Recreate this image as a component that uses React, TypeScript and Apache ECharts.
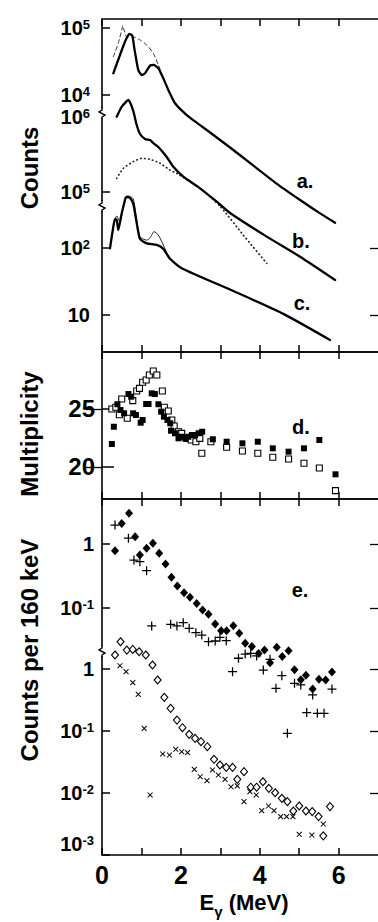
import React, { useEffect, useRef } from 'react';
import * as echarts from 'echarts';

// ---------- data (E in MeV) ----------
const xTickValues = [0, 1, 2, 3, 4, 5, 6];
const xLabelValues = [0, 2, 4, 6];

// panel a (counts)
const curveA = [[0.287, 21100], [0.456, 39500], [0.583, 62500], [0.692, 81300], [0.768, 76700], [0.819, 49800], [0.862, 35600], [0.921, 23600], [1.007, 19900], [1.091, 21100], [1.217, 27400], [1.301, 28100], [1.428, 25100], [1.555, 17700], [1.682, 11900], [1.851, 7520], [2.148, 5020], [2.485, 3560], [2.909, 2320], [3.33, 1510], [4.417, 481], [5.022, 271], [5.529, 171], [5.909, 124]];
const curveADashed = [[0.287, 37300], [0.413, 59200], [0.5, 93300], [0.525, 108000], [0.558, 93300], [0.609, 76000], [0.667, 73500], [0.794, 73500], [0.964, 66200], [1.134, 55700], [1.301, 41900], [1.428, 28100], [1.471, 24400]];
// panel b
const curveB = [[0.373, 1010000], [0.5, 1370000], [0.626, 1630000], [0.667, 1690000], [0.71, 1570000], [0.794, 1200000], [0.88, 782000], [0.964, 593000], [1.091, 509000], [1.217, 493000], [1.301, 450000], [1.428, 398000], [1.641, 293000], [1.808, 217000], [2.062, 160000], [2.485, 112000], [2.909, 74300], [3.246, 52500], [4.177, 25400], [5.022, 13700], [5.909, 6710]];
const curveBDotted = [[0.373, 152000], [0.54, 207000], [0.794, 254000], [1.007, 281000], [1.217, 273000], [1.471, 242000], [1.725, 196000], [1.895, 177000], [2.485, 112000], [2.99, 65000], [3.58, 26700], [4.177, 11200]];
// panel c
const curveC = [[0.203, 99], [0.266, 173], [0.33, 271], [0.373, 262], [0.413, 186], [0.5, 330], [0.626, 577], [0.71, 557], [0.794, 454], [0.88, 236], [0.964, 136], [1.134, 117], [1.387, 111], [1.555, 97], [1.725, 69], [2.021, 50], [3.33, 22.8], [4.598, 10.4], [5.782, 4.24]];
const curveCThin = [[0.203, 100], [0.287, 206], [0.373, 301], [0.456, 244], [0.583, 577], [0.667, 597], [0.794, 538], [0.88, 262], [0.964, 146], [1.134, 131], [1.217, 141], [1.319, 176], [1.428, 156], [1.555, 111], [1.674, 76]];

// panel d (multiplicity)
const multFilled = [[0.25, 21.98], [0.3, 23.47], [0.39, 25.41], [0.47, 24.91], [0.56, 24.63], [0.67, 26.29], [0.74, 26.06], [0.79, 24.63], [0.86, 24.48], [0.98, 23.82], [1.03, 24.05], [1.12, 25.43], [1.18, 25.43], [1.26, 26.35], [1.34, 26.29], [1.43, 25.41], [1.5, 24.77], [1.57, 24.34], [1.66, 24.05], [1.73, 23.77], [1.75, 23.13], [1.85, 22.91], [1.94, 22.47], [2.02, 22.61], [2.11, 22.47], [2.19, 22.61], [2.28, 22.76], [2.36, 22.76], [2.45, 22.91], [2.54, 23.04], [2.81, 22.39], [3.16, 22.18], [3.56, 22.04], [3.95, 22.18], [4.33, 21.61], [4.73, 21.32], [5.12, 21.61], [5.51, 22.33], [5.92, 19.37]];
const multOpen = [[0.25, 25.0], [0.35, 25.15], [0.44, 24.5], [0.5, 25.86], [0.64, 24.2], [0.78, 25.72], [0.88, 26.55], [0.95, 26.78], [1.03, 27.3], [1.12, 27.5], [1.2, 27.93], [1.3, 28.28], [1.39, 27.93], [1.53, 26.55], [1.58, 25.15], [1.68, 24.83], [1.77, 24.05], [1.83, 23.53], [1.94, 23.04], [2.02, 22.9], [2.15, 22.47], [2.26, 22.33], [2.38, 22.18], [2.48, 22.47], [2.53, 21.18], [2.76, 22.18], [3.16, 21.7], [3.56, 21.38], [3.95, 21.18], [4.33, 20.84], [4.73, 20.69], [5.12, 20.32], [5.51, 19.91], [5.92, 17.96]];

// panel e (counts per 160 keV), upper scale
const eDiamondFilled = [[0.33, 0.785], [0.5, 2.1], [0.685, 3.02], [0.84, 1.3], [0.96, 0.673], [1.13, 0.857], [1.29, 1.03], [1.45, 0.716], [1.61, 0.486], [1.76, 0.302], [1.91, 0.221], [2.08, 0.173], [2.23, 0.147], [2.4, 0.118], [2.55, 0.0931], [2.7, 0.0796], [2.87, 0.0562], [3.02, 0.0442], [3.16, 0.0442], [3.33, 0.0528], [3.48, 0.0403], [3.63, 0.0282], [3.8, 0.0251], [3.97, 0.0195], [4.12, 0.0221], [4.26, 0.014], [4.43, 0.0243], [4.57, 0.0174], [4.73, 0.0215], [4.88, 0.0108], [5.04, 0.00759], [5.17, 0.00891], [5.34, 0.00542], [5.5, 0.00769], [5.67, 0.0075], [5.83, 0.01]];
const ePlus = [[0.33, 1.98], [0.67, 1.23], [0.81, 0.562], [0.96, 0.53], [1.13, 0.383], [1.26, 0.0524], [1.74, 0.0556], [1.9, 0.0524], [2.06, 0.059], [2.21, 0.0481], [2.38, 0.0412], [2.53, 0.0378], [2.7, 0.0298], [2.87, 0.0305], [2.99, 0.0348], [3.15, 0.0309], [3.31, 0.0101], [3.46, 0.0164], [3.63, 0.0191], [3.77, 0.0196], [3.92, 0.0178], [4.09, 0.0107], [4.26, 0.0158], [4.41, 0.00556], [4.56, 0.00877], [4.7, 0.0011], [4.88, 0.00665], [5.04, 0.00627], [5.19, 0.00232], [5.34, 0.00438], [5.46, 0.00226], [5.63, 0.00226], [5.83, 0.00542]];
// lower scale
const eDiamondOpen = [[0.33, 1.68], [0.47, 2.75], [0.63, 2.02], [0.78, 2.07], [0.94, 1.9], [1.11, 1.68], [1.28, 1.16], [1.41, 0.665], [1.58, 0.349], [1.74, 0.232], [1.9, 0.15], [2.04, 0.113], [2.21, 0.0883], [2.36, 0.0762], [2.51, 0.0673], [2.67, 0.0558], [2.84, 0.0349], [2.99, 0.0283], [3.15, 0.0259], [3.31, 0.0259], [3.43, 0.0166], [3.6, 0.0221], [3.77, 0.0124], [3.92, 0.0124], [4.08, 0.0152], [4.23, 0.0119], [4.39, 0.0101], [4.56, 0.0082], [4.7, 0.00724], [4.85, 0.00513], [5.0, 0.00617], [5.17, 0.00513], [5.33, 0.00501], [5.49, 0.00417], [5.61, 0.00204], [5.78, 0.00603]];
const eCross = [[0.456, 1.13], [0.61, 0.906], [0.78, 0.603], [0.92, 0.389], [1.07, 0.11], [1.22, 0.00929], [1.54, 0.0426], [1.71, 0.041], [1.87, 0.0507], [2.02, 0.0463], [2.17, 0.0447], [2.34, 0.0241], [2.49, 0.0183], [2.66, 0.0158], [2.8, 0.0235], [2.95, 0.0195], [3.12, 0.0166], [3.27, 0.0126], [3.43, 0.013], [3.6, 0.00724], [3.75, 0.0105], [3.91, 0.00929], [4.05, 0.00519], [4.22, 0.00617], [4.36, 0.00519], [4.53, 0.00415], [4.68, 0.00415], [4.84, 0.00415], [5.0, 0.00216], [5.32, 0.0021], [5.61, 0.00316]];

// axis tick/label values
const aTicks = [1e4, 1e5];
const bLabels = [1e5, 1e6];
const bTicks = [1e5];
const cTicks = [10, 100];
const dTicks = [20, 25];
const eUpperTicks = [0.1, 1];
const eLowerTicks = [0.001, 0.01, 0.1, 1];

const FONT = '"Liberation Sans", Arial, sans-serif';
const LEFT = 102;
const WIDTH = 284;
const XMAX = 7.2;

const logLabel = (v: number) => {
  const e = Math.round(Math.log10(v));
  if (e === 0) return '{b|1}';
  if (e === 1) return '{b|10}';
  if (e === -3) return '{b|10}{s|-3}\n{e| }';
  return `{b|10}{s|${e}}`;
};

const labelRich = {
  b: { fontSize: 20, fontWeight: 'bold', fontFamily: FONT, color: '#000' },
  s: { fontSize: 13, fontWeight: 'bold', fontFamily: FONT, color: '#000', verticalAlign: 'top' },
  e: { fontSize: 13, lineHeight: 22 },
};

const PLUS = 'path://M0,4.3H10V5.7H0Z M4.3,0H5.7V10H4.3Z';

export default function App() {
  const ref = useRef<HTMLDivElement>(null);
  useEffect(() => {
    if (!ref.current) return;
    const chart = echarts.init(ref.current, undefined, { renderer: 'svg' });

    const gridBase = { left: LEFT, width: WIDTH, outerBoundsMode: 'none', containLabel: false };
    const border = { show: true, borderColor: '#000', borderWidth: 1.6, backgroundColor: 'transparent' };
    const grids = [
      { ...gridBase, top: 19, height: 333, ...border },
      { ...gridBase, top: 19, height: 333 },
      { ...gridBase, top: 19, height: 333 },
      { ...gridBase, top: 352, height: 147, ...border },
      { ...gridBase, top: 499, height: 356, ...border },
      { ...gridBase, top: 499, height: 356 },
    ];

    const tickX = { show: true, inside: true, length: 7, customValues: xTickValues, lineStyle: { color: '#000', width: 1.5 } };
    const xBase = { type: 'value', min: 0, max: XMAX, splitLine: { show: false }, axisLine: { show: false }, axisLabel: { show: false } };
    const xAxes = [
      { ...xBase, gridIndex: 0, position: 'top', axisTick: tickX },
      { ...xBase, gridIndex: 0, position: 'bottom', axisTick: tickX },
      { ...xBase, gridIndex: 1, show: false },
      { ...xBase, gridIndex: 2, show: false },
      { ...xBase, gridIndex: 3, position: 'top', axisTick: tickX },
      { ...xBase, gridIndex: 3, position: 'bottom', axisTick: tickX },
      { ...xBase, gridIndex: 4, position: 'top', axisTick: tickX },
      {
        ...xBase, gridIndex: 5, position: 'bottom', axisTick: tickX,
        axisLabel: { show: true, customValues: xLabelValues, fontSize: 25, fontWeight: 'bold', fontFamily: FONT, color: '#000', margin: 7 },
        name: '{e|E}{g|γ}{e| (MeV)}', nameLocation: 'middle', nameGap: 36,
        nameTextStyle: {
          rich: {
            e: { fontSize: 22, fontWeight: 'bold', fontFamily: FONT, color: '#000', lineHeight: 28, verticalAlign: 'top' },
            g: { fontSize: 15, fontWeight: 'bold', fontFamily: FONT, color: '#000', lineHeight: 15, verticalAlign: 'bottom' },
          },
        },
      },
    ];

    const leftLog = (gridIndex: number, min: number, max: number, ticks: number[], labels: number[], margin = 12) => ({
      type: 'log', logBase: 10, gridIndex, position: 'left', min, max,
      axisLine: { show: false }, splitLine: { show: false }, minorTick: { show: false },
      axisTick: { show: ticks.length > 0, inside: true, length: 8, customValues: ticks, lineStyle: { color: '#000', width: 1.5 } },
      axisLabel: { show: true, customValues: labels, formatter: logLabel, rich: labelRich, margin, color: '#000' },
    });
    const rightTicks = (type: string, gridIndex: number, min: number, max: number, ticks: number[]) => ({
      type, gridIndex, position: 'right', min, max,
      axisLine: { show: false }, splitLine: { show: false }, axisLabel: { show: false },
      axisTick: { show: true, inside: true, length: 16, customValues: ticks, lineStyle: { color: '#000', width: 1.3 } },
    });

    const aRange = [Math.pow(10, 0.1642), Math.pow(10, 5.1343)];
    const bRange = [Math.pow(10, 2.8667), Math.pow(10, 7.3067)];
    const cRange = [Math.pow(10, 0.4478), Math.pow(10, 5.4179)];
    const dRange = [17.241, 29.914];
    const euRange = [Math.pow(10, -4.8594), Math.pow(10, 0.7031)];
    const elRange = [0.001, Math.pow(10, 2.7419)];

    const yAxes = [
      leftLog(0, aRange[0], aRange[1], aTicks, aTicks),
      leftLog(1, bRange[0], bRange[1], bTicks, bLabels),
      leftLog(2, cRange[0], cRange[1], cTicks, cTicks),
      rightTicks('log', 2, cRange[0], cRange[1], cTicks),
      {
        type: 'value', gridIndex: 3, position: 'left', min: dRange[0], max: dRange[1],
        axisLine: { show: false }, splitLine: { show: false },
        axisTick: { show: true, inside: true, length: 12, customValues: dTicks, lineStyle: { color: '#000', width: 1.5 } },
        axisLabel: { show: true, customValues: dTicks, fontSize: 24, fontWeight: 'bold', fontFamily: FONT, color: '#000', margin: 7 },
      },
      rightTicks('value', 3, dRange[0], dRange[1], dTicks),
      leftLog(4, euRange[0], euRange[1], eUpperTicks, eUpperTicks, 8),
      rightTicks('log', 4, euRange[0], euRange[1], eUpperTicks),
      leftLog(5, elRange[0], elRange[1], eLowerTicks, eLowerTicks, 8),
      rightTicks('log', 5, elRange[0], elRange[1], eLowerTicks.slice(1)),
    ];

    const line = (data: number[][], xi: number, yi: number, width: number, type: any = 'solid', color = '#000') => ({
      type: 'line', data, xAxisIndex: xi, yAxisIndex: yi, showSymbol: false, smooth: 0.2,
      lineStyle: { color, width, type, cap: 'round', join: 'round' }, silent: true, z: 3,
    });
    const scatter = (data: number[][], xi: number, yi: number, symbol: string, size: any, fill: string, extra: any = {}) => ({
      type: 'scatter', data, xAxisIndex: xi, yAxisIndex: yi, symbol, symbolSize: size,
      itemStyle: { color: fill, borderColor: '#000', borderWidth: fill === '#fff' ? 1.1 : 0, opacity: 1 },
      silent: true, z: 4, ...extra,
    });

    const series = [
      line(curveADashed, 1, 0, 1, [4, 3], '#333'),
      line(curveA, 1, 0, 2.3),
      line(curveBDotted, 2, 1, 1.7, [0.5, 3.5], '#222'),
      line(curveB, 2, 1, 2.3),
      line(curveCThin, 3, 2, 1, 'solid', '#222'),
      line(curveC, 3, 2, 2.3),
      scatter(multOpen, 5, 4, 'rect', 6, '#fff'),
      scatter(multFilled, 5, 4, 'rect', 6, '#000'),
      scatter(ePlus, 6, 6, PLUS, 9, '#000'),
      scatter(eDiamondFilled, 6, 6, 'diamond', [8, 9], '#000'),
      scatter(eCross, 7, 8, PLUS, 7, '#000', { symbolRotate: 45 }),
      scatter(eDiamondOpen, 7, 8, 'diamond', [7, 8], '#fff'),
    ];

    const zig = (y: number) => ({
      type: 'polyline', silent: true, z: 10,
      shape: { points: [[LEFT, y - 6], [LEFT, y - 3], [LEFT - 3, y - 1], [LEFT + 3, y + 2], [LEFT, y + 4], [LEFT, y + 6]] },
      style: { stroke: '#000', lineWidth: 1.4, fill: null },
    });
    const eraser = (y: number) => ({
      type: 'rect', silent: true, z: 9, shape: { x: LEFT - 2, y: y - 5, width: 4, height: 10 }, style: { fill: '#fff' },
    });
    const title = (text: string, y: number) => ({
      type: 'text', x: 29, y, rotation: Math.PI / 2, silent: true,
      style: { text, fontSize: 24, fontWeight: 'bold', fontFamily: FONT, fill: '#000', align: 'center', verticalAlign: 'middle' },
    });
    const tag = (text: string, x: number, y: number) => ({
      type: 'text', x, y, silent: true,
      style: { text, fontSize: 20, fontWeight: 'bold', fontFamily: FONT, fill: '#000', align: 'center', verticalAlign: 'middle' },
    });

    chart.setOption({
      animation: false,
      backgroundColor: '#fff',
      grid: grids,
      xAxis: xAxes,
      yAxis: yAxes,
      series,
      graphic: [
        eraser(113), zig(113), eraser(206), zig(206), eraser(651), zig(651),
        title('Counts', 168), title('Multiplicity', 434), title('Counts per 160 keV', 650),
        tag('a.', 305, 181), tag('b.', 301, 241), tag('c.', 302, 303), tag('d.', 301, 427), tag('e.', 300, 590),
      ],
    });
    return () => chart.dispose();
  }, []);
  return <div ref={ref} style={{ position: 'absolute', left: 0, top: 0, width: 378, height: 922 }} />;
}
